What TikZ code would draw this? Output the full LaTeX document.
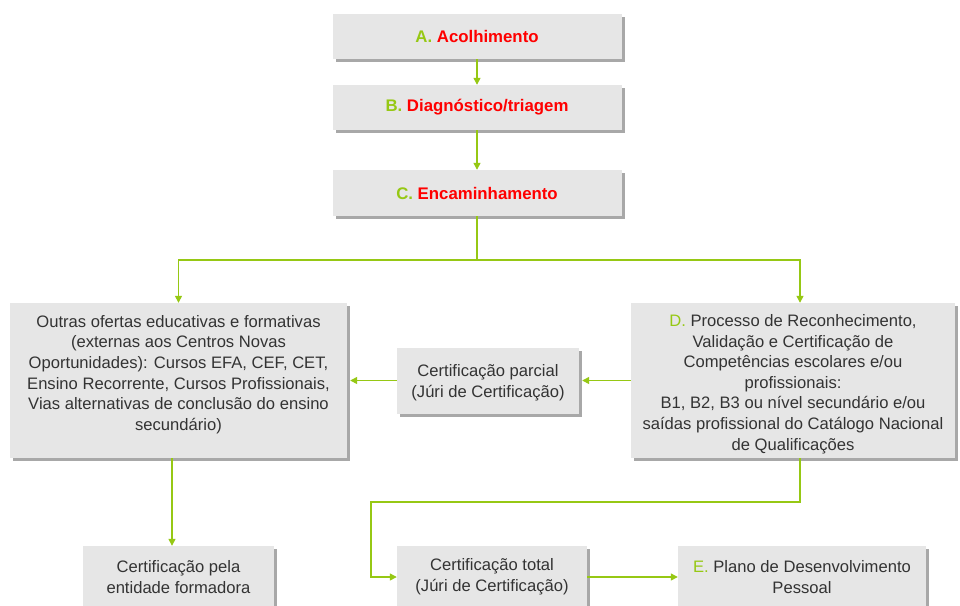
\documentclass[tikz,border=0pt]{standalone}
\usepackage{fontspec}
\setmainfont{Liberation Sans}
\usetikzlibrary{arrows.meta,shadows}
\definecolor{lgreen}{RGB}{150,200,20}
\definecolor{boxgray}{RGB}{230,230,230}
\definecolor{shgray}{RGB}{168,168,168}
\definecolor{txtgray}{RGB}{51,51,51}
\begin{document}
\begin{tikzpicture}[x=1pt,y=-1pt,
  box/.style={rectangle,fill=boxgray,inner sep=0pt,align=center,text=txtgray,
    font=\fontsize{16.6}{20.6}\selectfont,
    drop shadow={shadow xshift=3pt,shadow yshift=-3pt,fill=shgray,opacity=1}},
  btxt/.style={inner sep=0pt,align=center,text=txtgray,font=\fontsize{16.6}{20.6}\selectfont},
  head/.style={font=\fontsize{16.8}{20}\selectfont\bfseries},
  arr/.style={draw=lgreen,line width=1.3pt,-{Triangle[width=7pt,length=7pt]}},
  ln/.style={draw=lgreen,line width=1.3pt}]
\useasboundingbox (0,0) rectangle (960,605);
\clip (0,0) rectangle (960,605);
\fill[white] (0,0) rectangle (960,605);
% top boxes
\node[box,head,minimum width=289pt,minimum height=45pt] (A) at (477,36.5)
  {\textcolor{lgreen}{A.} \textcolor{red}{Acolhimento}};
\node[box,head,minimum width=289pt,minimum height=45pt] (B) at (477,107.5)
  {\textcolor{lgreen}{B.} \textcolor{red}{Diagnóstico/triagem}};
\node[box,head,minimum width=289pt,minimum height=46pt] (C) at (477,193)
  {\textcolor{lgreen}{C.} \textcolor{red}{Encaminhamento}};
% middle boxes
\node[box,minimum width=337pt,minimum height=155pt] (O) at (178.5,380.5) {};
\node[btxt] (Ot) at (178.5,374.5) {Outras ofertas educativas e formativas\\
(externas aos Centros Novas\\
Oportunidades): Cursos EFA, CEF, CET,\\
Ensino Recorrente, Cursos Profissionais,\\
Vias alternativas de conclusão do ensino\\
secundário)};
\node[box,minimum width=182pt,minimum height=66pt] (P) at (488,380.5) {};
\node[btxt] (Pt) at (488,382.5) {Certificação parcial\\(Júri de Certificação)};
\node[box,minimum width=324pt,minimum height=155pt] (D) at (793,380.5) {};
\node[btxt] (Dt) at (793,384) {\textcolor{lgreen}{D.} Processo de Reconhecimento,\\
Validação e Certificação de\\
Competências escolares e/ou\\
profissionais:\\
B1, B2, B3 ou nível secundário e/ou\\
saídas profissional do Catálogo Nacional\\
de Qualificações};
% bottom boxes
\node[box,minimum width=191pt,minimum height=62pt] (F) at (178.5,577)
  {Certificação pela\\entidade formadora};
\node[box,minimum width=190pt,minimum height=62pt] (T) at (492,577)
  {Certificação total\\(Júri de Certificação)};
\node[box,minimum width=248pt,minimum height=62pt] (E) at (802,577)
  {\textcolor{lgreen}{E.} Plano de Desenvolvimento\\Pessoal};
% connectors
\coordinate (split) at (477,260);
\coordinate (turn) at (371,502);
\draw[arr] (A.south) -- (B.north);
\draw[arr] (B.south) -- (C.north);
\draw[ln] (C.south) -- (split);
\draw[arr] (split) -| (O.north);
\draw[arr] (split) -| ([xshift=7pt]D.north);
\draw[arr,shorten >=3pt] (D.west) -- (P.east);
\draw[arr,shorten >=3pt] (P.west) -- (O.east);
\draw[arr] ([xshift=-6.5pt]O.south) -- ([xshift=-6.5pt]F.north);
\draw[arr] ([xshift=7pt]D.south) |- (turn) |- (T.west);
\draw[arr] (T.east) -- (E.west);
\end{tikzpicture}
\end{document}
